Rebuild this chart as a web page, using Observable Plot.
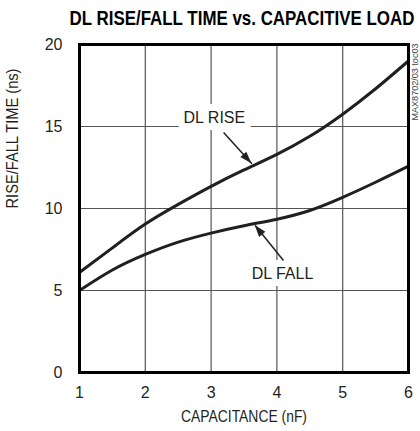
<!DOCTYPE html>
<html><head><meta charset="utf-8">
<script src="https://cdn.jsdelivr.net/npm/d3@7"></script>
<script src="https://cdn.jsdelivr.net/npm/@observablehq/plot@0.6"></script>
<style>
body{margin:0;background:#fff;}
</style></head><body>
<div id="chart"></div>
<script>
const capacitance = [1, 1.5, 2, 2.5, 3, 3.5, 4, 4.5, 5, 5.5, 6];
const riseTime = [6.1, 7.6, 9.05, 10.25, 11.35, 12.35, 13.3, 14.4, 15.75, 17.3, 19.0];
const fallTime = [5.0, 6.25, 7.2, 7.95, 8.5, 8.95, 9.35, 9.88, 10.68, 11.6, 12.58];
const xTicks = [1, 2, 3, 4, 5, 6];
const yTicks = [0, 5, 10, 15, 20];
const title = "DL RISE/FALL TIME vs. CAPACITIVE LOAD";
const xLabel = "CAPACITANCE (nF)";
const yLabel = "RISE/FALL TIME (ns)";
const figId = "MAX8702/03 toc03";
const labels = [
  {text: "DL RISE", x: 3.05, y: 15.55},
  {text: "DL FALL", x: 4.085, y: 6.04}
];
const arrows = [
  {x1: 3.19, y1: 14.63, x2: 3.62, y2: 12.73},
  {x1: 4.10, y1: 6.83, x2: 3.67, y2: 8.96}
];

const rise = capacitance.map((c, i) => ({c, t: riseTime[i]}));
const fall = capacitance.map((c, i) => ({c, t: fallTime[i]}));
const FONT = '"Liberation Sans Narrow","Liberation Sans",Arial,sans-serif';
const INK = "#231f20";

const chart = Plot.plot({
  width: 420,
  height: 431,
  marginTop: 44,
  marginBottom: 59,
  marginLeft: 79,
  marginRight: 12,
  style: {fontFamily: FONT, fontSize: "16px", color: INK, background: "#fff"},
  x: {domain: [1, 6]},
  y: {domain: [0, 20]},
  marks: [
    Plot.gridX(xTicks, {stroke: "#555", strokeOpacity: 1, strokeWidth: 1.2}),
    Plot.gridY(yTicks, {stroke: "#555", strokeOpacity: 1, strokeWidth: 1.2}),
    Plot.line(rise, {x: "c", y: "t", stroke: INK, strokeWidth: 3, curve: "natural"}),
    Plot.line(fall, {x: "c", y: "t", stroke: INK, strokeWidth: 3, curve: "natural"}),
    Plot.text(labels, {x: "x", y: "y", text: "text", fill: INK, stroke: "white", strokeWidth: 14, fontSize: 16}),
    Plot.link(arrows, {x1: "x1", y1: "y1", x2: "x2", y2: "y2", stroke: INK, strokeWidth: 1.5}),
    Plot.frame({stroke: "#000", strokeWidth: 3}),
    Plot.axisX(xTicks, {tickSize: 0, tickPadding: 14, label: null, fontSize: 16}),
    Plot.axisY(yTicks, {tickSize: 0, tickPadding: 17, label: null, fontSize: 16}),
    Plot.text([xLabel], {frameAnchor: "bottom", dy: 49, fontSize: 16, fill: INK}),
    Plot.text([yLabel], {frameAnchor: "left", dx: -67, rotate: -90, fontSize: 16, fill: INK}),
    Plot.text([figId], {frameAnchor: "top-right", dx: 3, dy: -1, rotate: -90, textAnchor: "end", fontSize: 8.5, fill: "#444"})
  ]
});
document.getElementById("chart").appendChild(chart);

// condense long texts to the reference widths (narrow typeface look)
const widths = new Map([[xLabel, 126], [yLabel, 140], [figId, 77]]);
for (const t of chart.querySelectorAll("text")) {
  const w = widths.get(t.textContent);
  if (w) { t.setAttribute("textLength", w); t.setAttribute("lengthAdjust", "spacingAndGlyphs"); }
}

const svg = d3.select(chart);

// title: bold, horizontally condensed to the reference width
const tt = svg.append("text")
  .attr("text-anchor", "middle")
  .attr("font-family", FONT)
  .attr("font-size", 19.5)
  .attr("font-weight", "bold")
  .attr("fill", "#000")
  .text(title);
const natural = tt.node().getComputedTextLength();
const k = Math.min(1, 345 / natural);
tt.attr("transform", `translate(242,25) scale(${k},1)`);

// filled arrowheads positioned through the chart's own scales
const sx = chart.scale("x"), sy = chart.scale("y");
for (const a of arrows) {
  const x1 = sx.apply(a.x1), y1 = sy.apply(a.y1), x2 = sx.apply(a.x2), y2 = sy.apply(a.y2);
  const dx = x2 - x1, dy = y2 - y1, len = Math.hypot(dx, dy);
  const ux = dx / len, uy = dy / len, L = 12, W = 8;
  const bx = x2 - ux * L, by = y2 - uy * L;
  const pts = [[x2, y2], [bx - uy * W / 2, by + ux * W / 2], [bx + uy * W / 2, by - ux * W / 2]];
  svg.append("polygon").attr("points", pts.map(p => p.join(",")).join(" ")).attr("fill", INK);
}
</script>
</body></html>
